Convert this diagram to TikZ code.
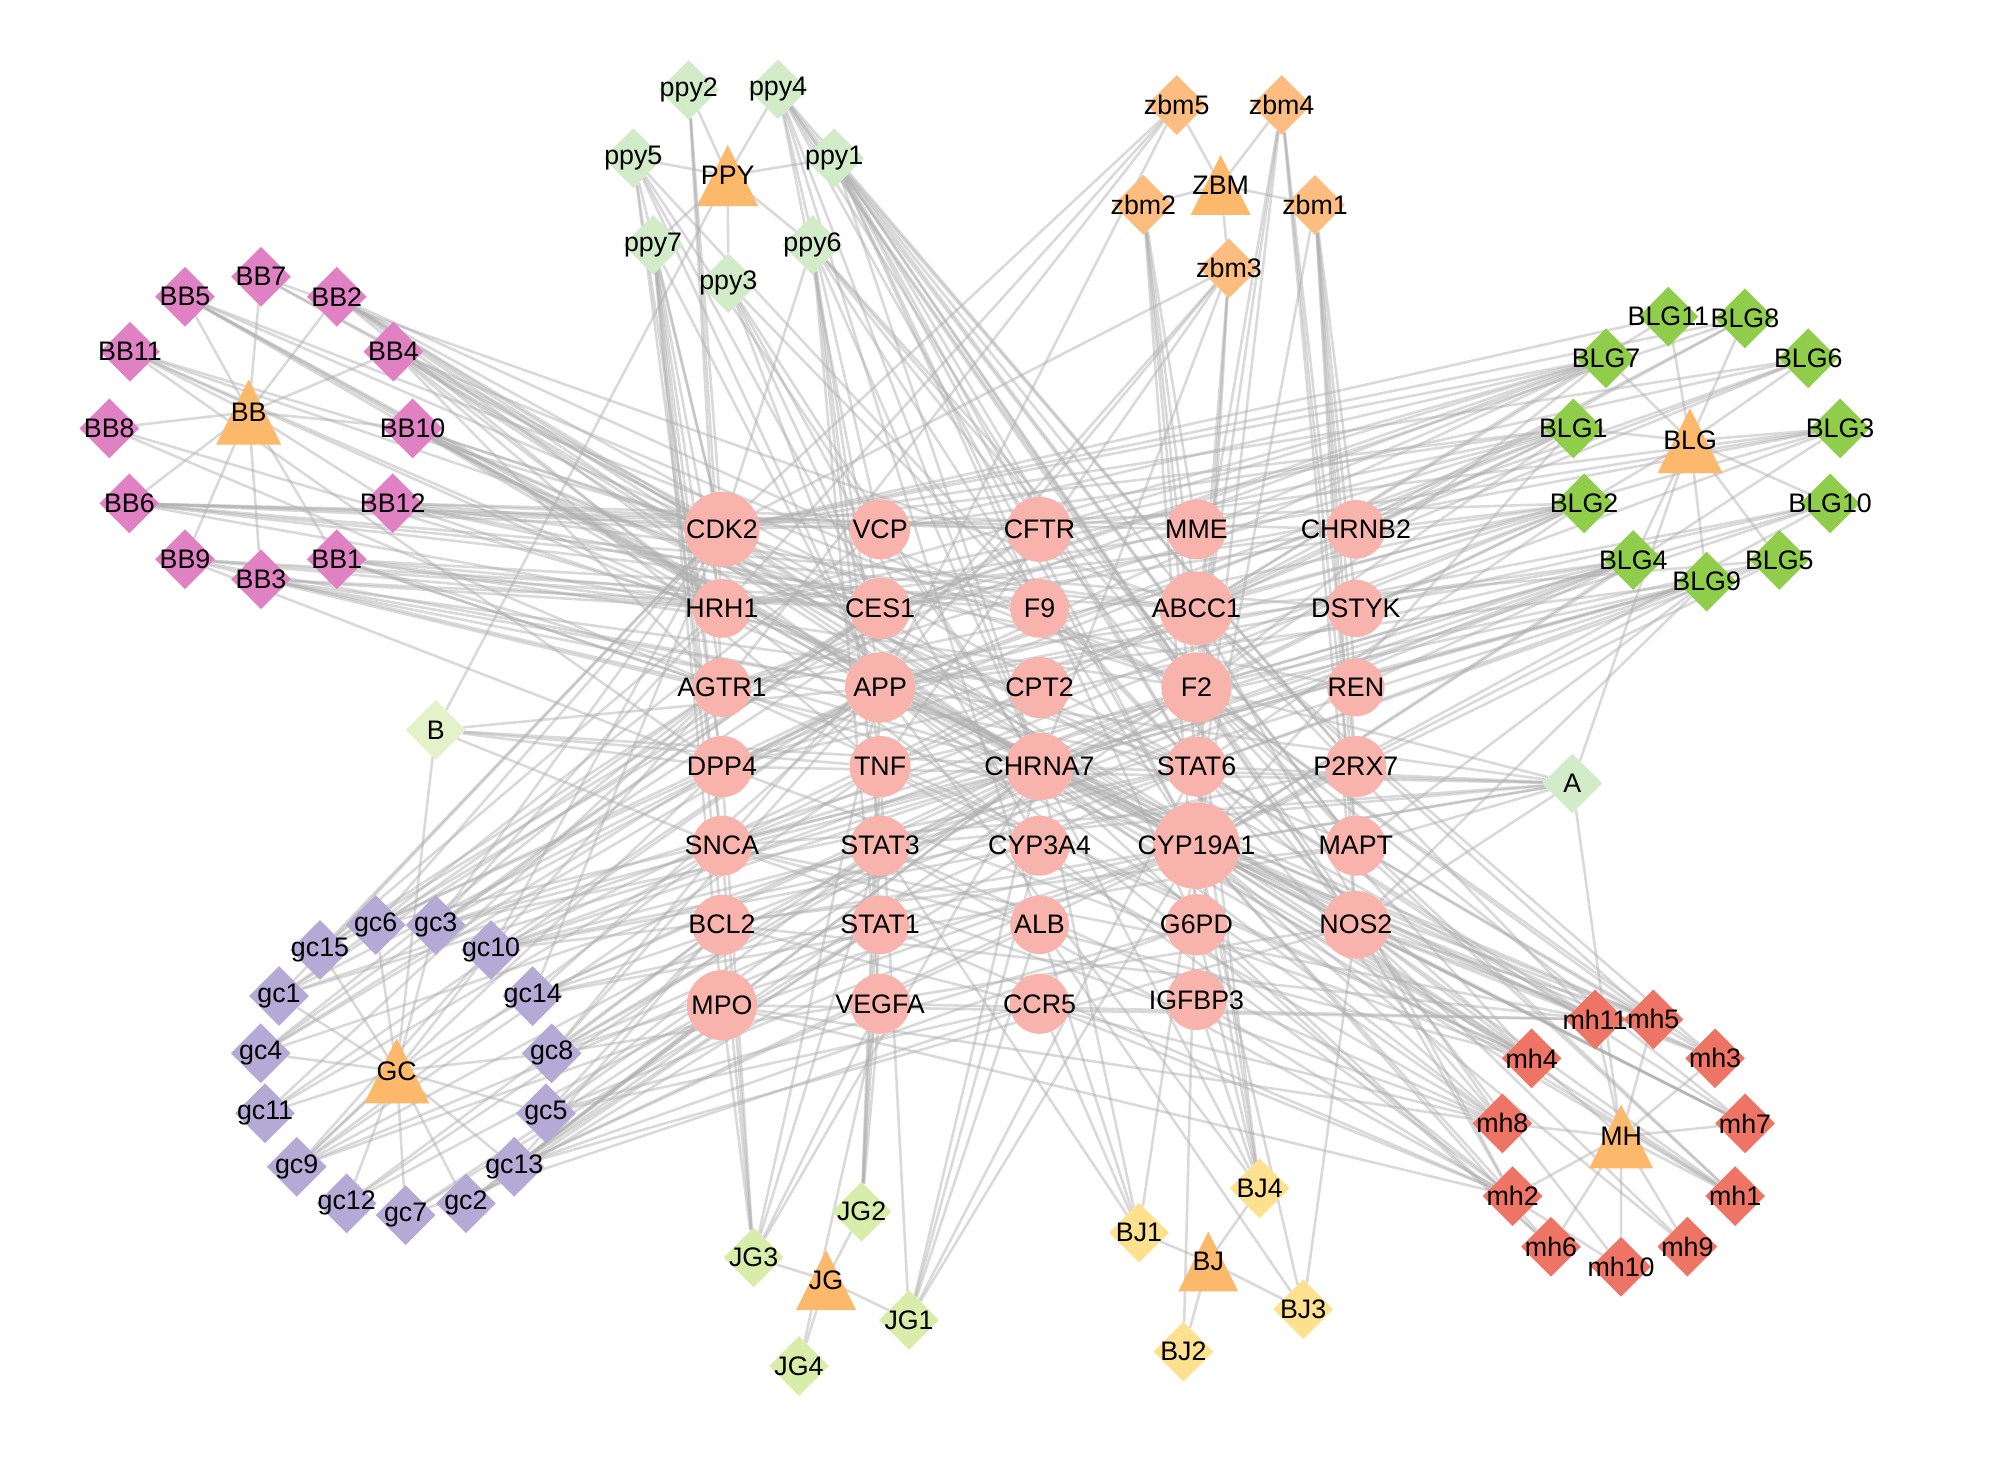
\documentclass[tikz,border=0pt]{standalone}
\usepackage{fontspec}
\setmainfont{Liberation Sans}
\usetikzlibrary{shapes.geometric,backgrounds}
\definecolor{tcol}{HTML}{F8B3AD}
\definecolor{hcol}{HTML}{FDB96B}
\definecolor{ppycol}{HTML}{D2ECC9}
\definecolor{zbmcol}{HTML}{FDBD80}
\definecolor{bbcol}{HTML}{E081C4}
\definecolor{blgcol}{HTML}{8FCD4B}
\definecolor{bcol}{HTML}{E3F2C9}
\definecolor{gccol}{HTML}{B5A9D5}
\definecolor{mhcol}{HTML}{EE7465}
\definecolor{jgcol}{HTML}{D7EDA9}
\definecolor{bjcol}{HTML}{FDE18F}
\begin{document}
\begin{tikzpicture}[x=1pt,y=-1pt,
  every node/.style={font=\fontsize{21}{22}\selectfont, text=black},
  tg/.style={circle, fill=tcol, inner sep=0pt, minimum size=#1},
  ing/.style={diamond, fill=#1, inner sep=0pt, minimum width=47, minimum height=47},
  herbpt/.style={circle, inner sep=0pt, minimum size=1pt},
  edge/.style={draw=gray!62, line width=2pt, opacity=0.48}]
\useasboundingbox (0,0) rectangle (1568,1161);
% targets
\foreach \n/\x/\y/\d in {CDK2/566/415/59, VCP/690/415/47, CFTR/815/415/51, MME/938/415/47, CHRNB2/1063/415/46,
  HRH1/566/477/46, CES1/690/477/48, F9/815/477/46, ABCC1/938/477/58, DSTYK/1063/477/45,
  AGTR1/566/539/46, APP/690/539/55, CPT2/815/539/48, F2/938/539/55, REN/1063/539/45,
  DPP4/566/601/48, TNF/690/601/48, CHRNA7/815/601/53, STAT6/938/601/47, P2RX7/1063/601/48,
  SNCA/566/663/47, STAT3/690/663/47, CYP3A4/815/663/47, CYP19A1/938/663/68, MAPT/1063/663/47,
  BCL2/566/725/47, STAT1/690/725/46, ALB/815/725/46, G6PD/938/725/48, NOS2/1063/725/53,
  MPO/566/788/55, VEGFA/690/787/47, CCR5/815/787/47, IGFBP3/938/784/47}
  {\node[tg=\d, label=center:\n] (\n) at (\x,\y) {};}
% herbs (triangles)
\foreach \n/\x/\y/\s in {PPY/570.5/137.7/24, ZBM/957/145/23.5, BB/195/323/25.5, BLG/1325/345.5/25.5,
  GC/311/839.5/25.5, MH/1271/891/25, JG/647.6/1003.5/23.5, BJ/947.3/989/23.5}
  {\fill[hcol] (\x-\s,\y+\s) -- (\x+\s,\y+\s) -- (\x,\y-\s) -- cycle;
   \node[herbpt, label=center:\n] (\n) at (\x,\y) {};}
% ingredients
\foreach \n/\x/\y/\c in {
  ppy1/654/124/ppycol, ppy2/540/70.6/ppycol, ppy3/571/222/ppycol, ppy4/610/70/ppycol,
  ppy5/496.5/124/ppycol, ppy6/637/192/ppycol, ppy7/512/192/ppycol,
  zbm1/1031/160.7/zbmcol, zbm2/896.4/160.7/zbmcol, zbm3/963.5/210.4/zbmcol, zbm4/1004.8/82.3/zbmcol, zbm5/922.5/82.3/zbmcol,
  BB1/264/438.5/bbcol, BB2/264/232.6/bbcol, BB3/204.6/454.2/bbcol, BB4/308.4/275.7/bbcol,
  BB5/145/232.6/bbcol, BB6/101.4/394.6/bbcol, BB7/204.6/216.9/bbcol, BB8/85.7/335.8/bbcol,
  BB9/145/438.5/bbcol, BB10/323.5/335.8/bbcol, BB11/101.9/275.7/bbcol, BB12/307.9/394.6/bbcol,
  BLG1/1233.5/335.8/blgcol, BLG2/1241.9/394.6/blgcol, BLG3/1442.6/335.8/blgcol, BLG4/1280.5/439/blgcol,
  BLG5/1395/439/blgcol, BLG6/1417.7/280.9/blgcol, BLG7/1259.1/280.9/blgcol, BLG8/1368/249.6/blgcol,
  BLG9/1338/456/blgcol, BLG10/1434.8/394.6/blgcol, BLG11/1308/248.3/blgcol,
  A/1232.7/614.1/ppycol, B/341.6/572.3/bcol,
  gc1/218.7/780.9/gccol, gc2/365.3/943.4/gccol, gc3/341.6/725.2/gccol, gc4/204.4/825.8/gccol,
  gc5/428/872.8/gccol, gc6/294.5/725.2/gccol, gc7/318/952.6/gccol, gc8/432.5/825.8/gccol,
  gc9/232.6/914.7/gccol, gc10/385/744.8/gccol, gc11/207.8/872.8/gccol, gc12/271.8/943.4/gccol,
  gc13/403.2/914.7/gccol, gc14/417.6/780.9/gccol, gc15/250.9/744.8/gccol,
  mh1/1360.3/937.7/mhcol, mh2/1185.9/937.7/mhcol, mh3/1344.6/829.7/mhcol, mh4/1200.8/829.7/mhcol,
  mh5/1296.2/799.2/mhcol, mh6/1216/977.4/mhcol, mh7/1368.1/880.7/mhcol, mh8/1177.8/880.7/mhcol,
  mh9/1322.9/977.4/mhcol, mh10/1270.9/993.1/mhcol, mh11/1250.5/799.2/mhcol,
  JG1/712.7/1034.9/jgcol, JG2/675.5/950/jgcol, JG3/590.8/985.8/jgcol, JG4/626.4/1071/jgcol,
  BJ1/893/966.4/bjcol, BJ2/927.8/1059.7/bjcol, BJ3/1021.7/1026.5/bjcol, BJ4/987.6/931.7/bjcol}
  {\node[ing=\c, label=center:\n] (\n) at (\x,\y) {};}
% connectors
\begin{scope}[on background layer]
\fill[white] (0,0) rectangle (1568,1161);
\foreach \a/\bs in {
  PPY/{ppy1,ppy2,ppy3,ppy4,ppy5,ppy6,ppy7,B},
  ZBM/{zbm1,zbm2,zbm3,zbm4,zbm5},
  BB/{BB1,BB2,BB3,BB4,BB5,BB6,BB7,BB8,BB9,BB10,BB11,BB12},
  BLG/{BLG1,BLG2,BLG3,BLG4,BLG5,BLG6,BLG7,BLG8,BLG9,BLG10,BLG11,A},
  GC/{gc1,gc2,gc3,gc4,gc5,gc6,gc7,gc8,gc9,gc10,gc11,gc12,gc13,gc14,gc15,B},
  MH/{mh1,mh2,mh3,mh4,mh5,mh6,mh7,mh8,mh9,mh10,mh11,A},
  JG/{JG1,JG2,JG3,JG4},
  BJ/{BJ1,BJ2,BJ3,BJ4},
  BB1/{HRH1,AGTR1,CES1,CHRNA7,ABCC1,F2,CYP19A1},
  BB2/{CDK2,HRH1,APP,CHRNA7,F2,CYP19A1,NOS2,STAT6},
  BB3/{HRH1,CES1,APP,STAT6,CHRNA7,CPT2},
  BB4/{CDK2,AGTR1,TNF,CHRNA7,CYP19A1,CYP3A4,F2,NOS2},
  BB5/{CDK2,HRH1,APP,F2,CHRNA7,CYP19A1},
  BB6/{CDK2,VCP,CFTR,MME,HRH1,ABCC1,DSTYK,F9},
  BB7/{CDK2,CES1,ABCC1},
  BB8/{HRH1,AGTR1},
  BB9/{HRH1,CES1,F9,AGTR1,APP,DPP4},
  BB10/{CDK2,APP,CHRNA7,CYP19A1,STAT6,F2,NOS2,MAPT},
  BB11/{CDK2,HRH1,CES1,DPP4,APP},
  BB12/{CDK2,CFTR,CHRNB2,CES1,ABCC1,REN,STAT6},
  ppy1/{CFTR,F9,ABCC1,F2,CYP19A1,NOS2,MAPT,P2RX7,G6PD,STAT6,CHRNA7},
  ppy2/{CDK2,HRH1,AGTR1},
  ppy3/{APP,CHRNA7,STAT6,CYP3A4,CES1},
  ppy4/{VCP,CES1,CHRNA7,CYP19A1,NOS2,ALB,F2,MAPT,P2RX7,STAT6},
  ppy5/{CDK2,CES1,APP,CHRNA7,STAT6,DPP4,SNCA},
  ppy6/{CDK2,APP,TNF,STAT3,VEGFA,CYP19A1,F2,MAPT,CHRNA7,NOS2},
  ppy7/{CDK2,HRH1,DPP4,SNCA,MPO,BCL2,APP,AGTR1},
  zbm1/{CHRNB2,DSTYK,MAPT,NOS2,P2RX7,CYP19A1,REN},
  zbm2/{MME,ABCC1,F2,STAT6,G6PD},
  zbm3/{F2,STAT6,CYP19A1,CDK2,CHRNA7,APP,SNCA,TNF},
  zbm4/{ABCC1,F2,CYP19A1,NOS2,MAPT,P2RX7},
  zbm5/{CDK2,HRH1,APP,AGTR1},
  BLG1/{CDK2,VCP,CES1,APP,F2,ABCC1,CYP19A1,HRH1,AGTR1,DPP4,SNCA},
  BLG2/{CDK2,HRH1,CES1,APP,CHRNA7,STAT6,F2,AGTR1,DPP4,SNCA,TNF},
  BLG3/{CFTR,ABCC1,CYP19A1,DSTYK,HRH1,CES1},
  BLG4/{AGTR1,APP,CHRNA7,CYP19A1,F2,REN,SNCA,DPP4,STAT3,BCL2},
  BLG5/{CYP19A1,F2,ABCC1,CHRNA7,STAT6},
  BLG6/{ABCC1,APP,CHRNB2,CDK2,CFTR},
  BLG7/{CDK2,VCP,CFTR,MME,ABCC1,F2,HRH1,CES1,AGTR1,DPP4},
  BLG8/{CDK2,CES1,CHRNB2,ABCC1},
  BLG9/{CYP19A1,STAT6,CHRNA7,NOS2,MAPT,APP,SNCA,TNF,STAT3},
  BLG10/{F2,CYP19A1,DSTYK,APP,CHRNA7},
  BLG11/{CDK2,ABCC1},
  A/{STAT6,CYP19A1,NOS2,F2,CHRNA7,APP,MAPT,SNCA,DPP4,STAT3,BCL2},
  B/{DPP4,CHRNA7,APP,SNCA,TNF},
  gc1/{CDK2,AGTR1,APP,SNCA,CES1,CHRNA7},
  gc2/{CYP3A4,CHRNA7,STAT1,MPO},
  gc3/{CDK2,HRH1,CES1,APP,CFTR,CHRNA7,F2,STAT6},
  gc4/{AGTR1,APP,DPP4,STAT3,CES1},
  gc5/{BCL2,CHRNA7,CYP19A1,STAT3,CCR5,G6PD},
  gc6/{CDK2,VCP,APP,CFTR,CHRNA7},
  gc7/{MPO,STAT1,CCR5},
  gc8/{APP,CHRNA7,CYP19A1,BCL2,SNCA,F2,NOS2,STAT6},
  gc9/{AGTR1,DPP4,SNCA,TNF,CYP19A1,STAT1,CHRNA7},
  gc10/{CDK2,APP,F2,CHRNA7,CYP3A4,ABCC1,STAT6,P2RX7,MAPT},
  gc11/{AGTR1,APP,SNCA},
  gc12/{MPO,BCL2,STAT3},
  gc13/{CYP19A1,BCL2,STAT1,F2,CHRNA7,MPO,NOS2,G6PD,ALB},
  gc14/{CDK2,APP,CHRNA7,CYP19A1,STAT6,MAPT,F2},
  gc15/{CDK2,AGTR1,DPP4,HRH1,CES1},
  mh1/{CYP19A1,NOS2,F2,CHRNA7,APP,MAPT},
  mh2/{APP,CYP19A1,STAT3,CYP3A4,ABCC1,NOS2,MPO,STAT1,CCR5},
  mh3/{CYP19A1,F2,NOS2,MAPT,APP,ABCC1},
  mh4/{CDK2,APP,CHRNA7,CYP19A1,STAT6,NOS2,F2,DPP4,SNCA,TNF,AGTR1},
  mh5/{CYP19A1,NOS2,ABCC1,MAPT,F2,CHRNA7,APP},
  mh6/{CYP19A1,CHRNA7,G6PD},
  mh7/{CYP19A1,NOS2,APP,F2,CHRNA7,STAT6},
  mh8/{APP,CHRNA7,CYP19A1,F2,STAT6,MPO,TNF,BCL2,SNCA,STAT3},
  mh9/{NOS2,CYP19A1},
  mh10/{NOS2,IGFBP3},
  mh11/{CDK2,CHRNA7,CYP19A1,STAT6,NOS2,ABCC1,APP,VEGFA,SNCA,BCL2,MPO},
  JG1/{CYP3A4,CHRNA7,ALB,TNF,CYP19A1,STAT6},
  JG2/{STAT1,VEGFA,STAT3,APP,TNF},
  JG3/{MPO,SNCA,BCL2,DPP4,VEGFA,APP,STAT3,CHRNA7},
  JG4/{VEGFA},
  BJ1/{CCR5,CYP19A1,ALB,CHRNA7,STAT3},
  BJ2/{CYP19A1},
  BJ3/{NOS2,CYP19A1,ALB},
  BJ4/{CYP19A1,IGFBP3,F2,CHRNA7,G6PD,APP,STAT6}}
  {\foreach \b in \bs {\draw[edge] (\a) -- (\b);}}
\end{scope}
\end{tikzpicture}
\end{document}
